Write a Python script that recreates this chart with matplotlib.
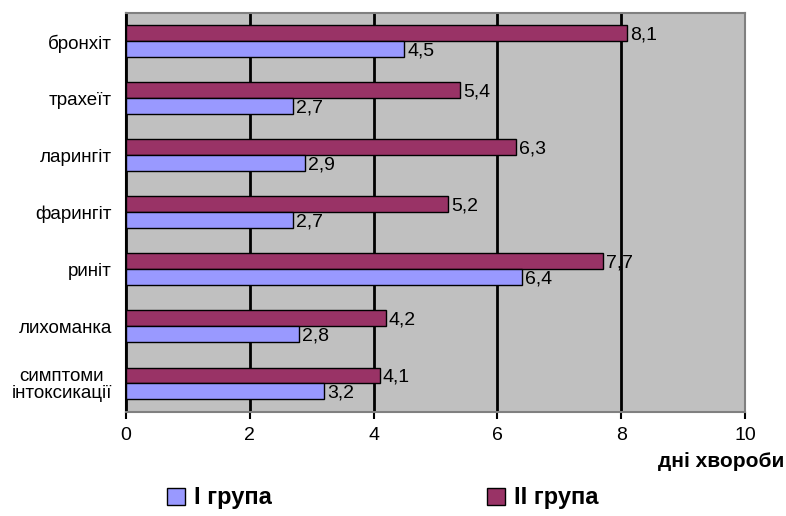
import numpy as np
import matplotlib.pyplot as plt
from matplotlib.patches import Patch

plt.rcParams['font.family'] = ['Liberation Sans', 'DejaVu Sans']

# data
categories = ['бронхіт', 'трахеїт', 'ларингіт', 'фарингіт', 'риніт',
              'лихоманка', 'симптоми\nінтоксикації']
group1 = [4.5, 2.7, 2.9, 2.7, 6.4, 2.8, 3.2]
group2 = [8.1, 5.4, 6.3, 5.2, 7.7, 4.2, 4.1]
xticks = [0, 2, 4, 6, 8, 10]

c1 = '#9999FF'
c2 = '#993366'

fig = plt.figure(figsize=(7.86, 5.16), dpi=100)
ax = fig.add_axes([0.160, 0.2016, 0.788, 0.7734])
ax.set_facecolor('#C0C0C0')

y = np.arange(len(categories))
h = 0.28
b2 = ax.barh(y - h / 2, group2, height=h, color=c2, edgecolor='black', linewidth=1, zorder=3)
b1 = ax.barh(y + h / 2, group1, height=h, color=c1, edgecolor='black', linewidth=1, zorder=3)

for bars, vals in [(b2, group2), (b1, group1)]:
    for bar, v in zip(bars, vals):
        ax.text(v + 0.05, bar.get_y() + bar.get_height() / 2 + 0.03,
                f'{v:.1f}'.replace('.', ','), va='center', ha='left', fontsize=14)

ax.set_ylim(len(categories) - 0.5, -0.5)
ax.set_xlim(0, 10)
ax.set_xticks(xticks)
ax.set_xticklabels([str(t) for t in xticks], fontsize=14)
ax.set_yticks(y)
ax.set_yticklabels(categories, fontsize=13.5, linespacing=1.0, multialignment='center')
ax.tick_params(axis='y', length=0, pad=10)
ax.tick_params(axis='x', length=5, width=1.5, pad=6, color='black')

ax.grid(axis='x', color='black', linewidth=2, zorder=1)
for s in ax.spines.values():
    s.set_color('#808080')
    s.set_linewidth(1.5)
ax.spines['left'].set_color('black')

fig.text(0.998, 0.105, 'дні хвороби', ha='right', va='center',
         fontsize=15, fontweight='bold')

handles = [Patch(facecolor=c1, edgecolor='black'), Patch(facecolor=c2, edgecolor='black')]
fig.legend(handles, ['I група', 'II група'], loc='center', bbox_to_anchor=(0.487, 0.035),
           ncol=2, frameon=False, prop={'size': 17, 'weight': 'bold'},
           columnspacing=9.1, handlelength=0.75, handleheight=0.75, handletextpad=0.4)

fig.savefig('out.png', dpi=100)
